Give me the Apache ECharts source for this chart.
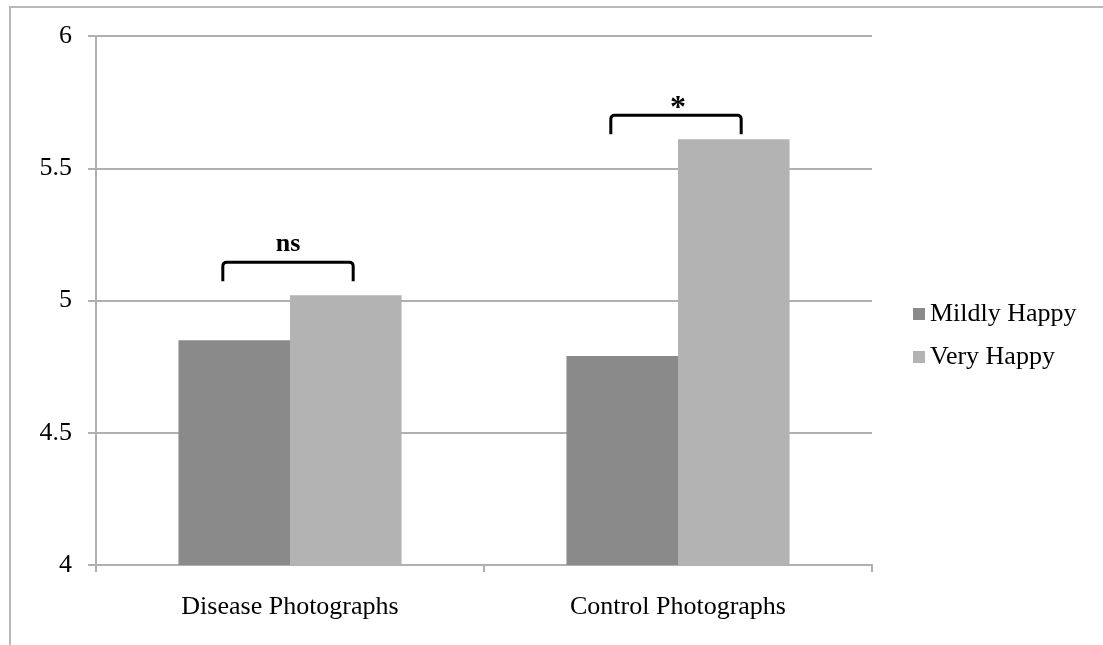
<!DOCTYPE html>
<html>
<head>
<meta charset="utf-8">
<script src="https://cdn.jsdelivr.net/npm/echarts@6/dist/echarts.min.js"></script>
<style>
html,body{margin:0;padding:0;background:#fff;}
#chart{width:1103px;height:645px;}
</style>
</head>
<body>
<div id="chart"></div>
<script>
var categories = ['Disease Photographs', 'Control Photographs'];
var mildlyHappy = [4.85, 4.79];
var veryHappy = [5.02, 5.61];
var seriesNames = ['Mildly Happy', 'Very Happy'];
var sigLabels = ['ns', '*'];
var sigBracketTop = [5.145, 5.70];

var FONT = '"Liberation Serif", "Times New Roman", serif';
var chart = echarts.init(document.getElementById('chart'));

var bracketData = categories.map(function (c, i) { return [i, sigBracketTop[i], sigLabels[i]]; });

chart.setOption({
  animation: false,
  backgroundColor: '#fff',
  grid: { left: 96, right: 231, top: 36, bottom: 80, containLabel: false },
  legend: {
    orient: 'vertical', left: 908, top: 296,
    itemWidth: 12, itemHeight: 12, itemGap: 17,
    icon: 'rect',
    data: seriesNames,
    textStyle: { fontFamily: FONT, fontSize: 26, color: '#000', padding: [0, 0, 0, 0] }
  },
  xAxis: {
    type: 'category', data: categories,
    axisLine: { show: true, lineStyle: { color: '#b0b0b0', width: 2 } },
    axisTick: { show: true, length: 7, lineStyle: { color: '#b0b0b0', width: 2 } },
    axisLabel: { fontFamily: FONT, fontSize: 26, color: '#000', margin: 29 }
  },
  yAxis: {
    type: 'value', min: 4, max: 6, interval: 0.5,
    axisLine: { show: true, lineStyle: { color: '#b0b0b0', width: 2 } },
    axisTick: { show: true, length: 8, lineStyle: { color: '#b0b0b0', width: 2 } },
    splitLine: { show: true, lineStyle: { color: '#b0b0b0', width: 2 } },
    axisLabel: { fontFamily: FONT, fontSize: 26, color: '#000', margin: 24 }
  },
  series: [
    { name: seriesNames[0], type: 'bar', data: mildlyHappy, itemStyle: { color: '#8a8a8a' },
      barGap: '0%', barCategoryGap: '42.5%' },
    { name: seriesNames[1], type: 'bar', data: veryHappy, itemStyle: { color: '#b3b3b3' },
      barGap: '0%', barCategoryGap: '42.5%' },
    {
      type: 'custom', silent: true, z: 10,
      data: bracketData,
      renderItem: function (params, api) {
        var p = api.coord([api.value(0), api.value(1)]);
        var band = api.size([1, 0])[0];
        var half = band * 0.168;
        var x0 = p[0] - half - 2, x1 = p[0] + half - 2, y = p[1], leg = 19, r = 4;
        var label = bracketData[params.dataIndex][2];
        var isStar = label === '*';
        return {
          type: 'group',
          children: [
            { type: 'path', shape: {
                pathData: 'M' + x0 + ' ' + (y + leg) + ' L' + x0 + ' ' + (y + r) +
                  ' Q' + x0 + ' ' + y + ' ' + (x0 + r) + ' ' + y +
                  ' L' + (x1 - r) + ' ' + y + ' Q' + x1 + ' ' + y + ' ' + x1 + ' ' + (y + r) +
                  ' L' + x1 + ' ' + (y + leg) },
              style: { fill: 'none', stroke: '#000', lineWidth: 3 } },
            { type: 'text', x: (x0 + x1) / 2 + (isStar ? 2 : 0), y: isStar ? y + 9 : y - 5,
              style: { text: label, fontFamily: FONT, fontSize: isStar ? 32 : 26, fontWeight: 'bold',
                       fill: '#000', align: 'center', verticalAlign: 'bottom' } }
          ]
        };
      }
    }
  ],
  graphic: [
    { type: 'polyline', shape: { points: [[10, 645], [10, 7], [1103, 7]] },
      style: { stroke: '#b8b8b8', lineWidth: 2, fill: 'none' } }
  ]
});
</script>
</body>
</html>
